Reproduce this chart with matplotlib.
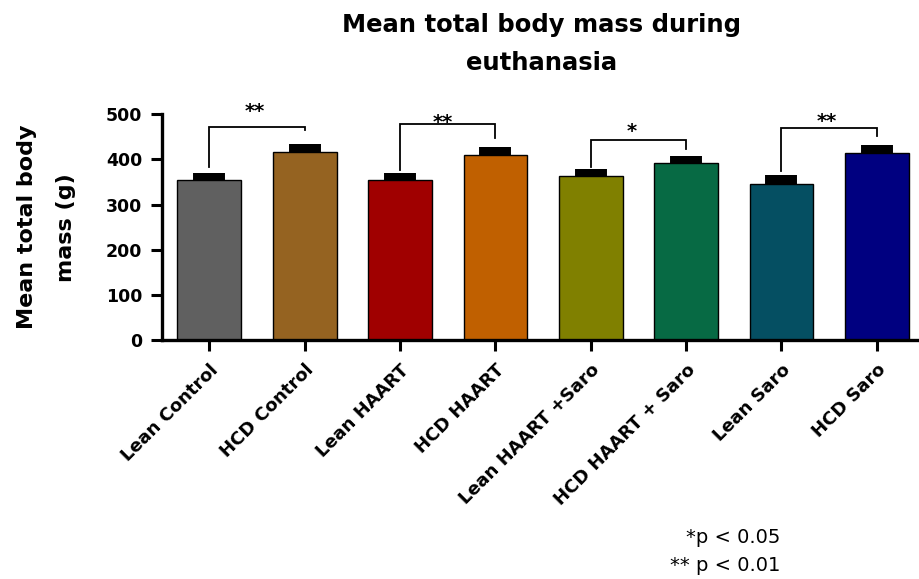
import matplotlib
matplotlib.use("Agg")
import matplotlib.pyplot as plt

# Group names and measured values
groups = ["Lean Control", "HCD Control", "Lean HAART", "HCD HAART",
          "Lean HAART +Saro", "HCD HAART + Saro", "Lean Saro", "HCD Saro"]
mean_mass = [355, 417, 355, 410, 363, 391, 346, 414]
sem_mass = [15, 18, 15, 17, 16, 17, 20, 18]
bar_colors = ["#606060", "#956321", "#A00000", "#C06000",
              "#808000", "#076A44", "#054F62", "#000080"]

# Pairwise comparisons: (left group, right group, bracket top, left leg end,
# right leg end, star x, star y, label)
comparisons = [
    (0, 1, 472, 384, 465, 0.48, 507, "**"),
    (2, 3, 478, 377, 448, 2.45, 482, "**"),
    (4, 5, 443, 384, 423, 4.43, 462, "*"),
    (6, 7, 469, 375, 452, 6.47, 484, "**"),
]

yticks = [0, 100, 200, 300, 400, 500]

plt.rcParams["font.family"] = ["DejaVu Sans"]

fig = plt.figure(figsize=(9.19, 5.79), dpi=100)
ax = fig.add_axes([0.176, 0.4128, 0.830, 0.3898])

x = list(range(len(groups)))
ax.bar(x, mean_mass, width=0.67, color=bar_colors, edgecolor="black",
       linewidth=1.0, zorder=2)

# SEM drawn as a heavy upward error bar
for xi, m, s in zip(x, mean_mass, sem_mass):
    ax.errorbar(xi, m, yerr=[[0], [s]], fmt="none", ecolor="black",
                elinewidth=23, capsize=0, zorder=3)

for a, b, top, yl, yr, sx, sy, lab in comparisons:
    ax.plot([a, a, b, b], [yl, top, top, yr], color="black", lw=1.3,
            solid_joinstyle="miter", zorder=4, clip_on=False)
    ax.text(sx, sy, lab, ha="center", va="center", fontsize=14,
            fontweight="bold", zorder=5)

ax.set_xlim(-0.5, 7.5)
ax.set_ylim(0, 500)
ax.set_yticks(yticks)
ax.set_yticklabels([str(t) for t in yticks], fontsize=12.5, fontweight="bold")
ax.set_xticks(x)
ax.set_xticklabels(groups, rotation=45, ha="right", va="top",
                   rotation_mode="anchor", fontsize=13, fontweight="bold")

for side in ("top", "right"):
    ax.spines[side].set_visible(False)
for side in ("left", "bottom"):
    ax.spines[side].set_linewidth(2.4)
ax.tick_params(axis="both", width=2.2, length=8, pad=6, color="black")
ax.tick_params(axis="x", pad=7)

ax.set_ylabel("Mean total body\nmass (g)", fontsize=16, fontweight="bold",
              linespacing=2.2)
ax.yaxis.set_label_coords(-0.112, 0.5)

fig.text(0.589, 0.9775, "Mean total body mass during\neuthanasia",
         ha="center", va="top", fontsize=17.5, fontweight="bold",
         linespacing=1.75)

fig.text(0.849, 0.048, "*p < 0.05\n** p < 0.01", ha="right", va="center",
         fontsize=14, linespacing=1.6, multialignment="right")

fig.savefig("out.png", dpi=100)
